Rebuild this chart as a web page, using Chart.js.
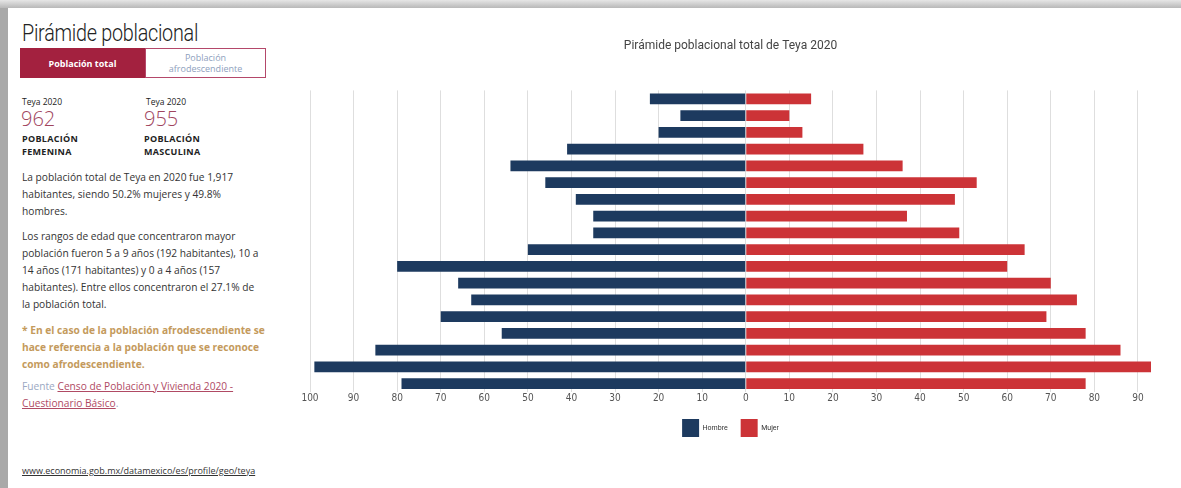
<!DOCTYPE html>
<html>
<head>
<meta charset="utf-8">
<script src="https://cdn.jsdelivr.net/npm/chart.js@4.4.0/dist/chart.umd.min.js"></script>
<style>
  html,body{margin:0;padding:0;}
  body{width:1181px;height:488px;overflow:hidden;background:#a9a9a9;position:relative;font-family:"Open Sans","Noto Sans",sans-serif;}
  #topband{position:absolute;left:0;top:0;width:1181px;height:8px;background:linear-gradient(#e6e6e6,#b8b8b8);}
  #panel{position:absolute;left:8px;top:8px;width:1173px;height:480px;background:#fff;}
  .abs{position:absolute;}
  #ptitle{left:14px;top:12px;font-family:Roboto,sans-serif;font-size:23px;color:#222;font-weight:300;letter-spacing:-0.3px;transform:scaleX(0.86);transform-origin:left top;white-space:nowrap;}
  #tab1{left:12px;top:40px;width:125px;height:30px;background:#a3213f;color:#fff;font-size:9px;font-weight:700;display:flex;align-items:center;justify-content:center;}
  #tab2{left:137px;top:40px;width:119px;height:28px;border:1px solid #b4486a;color:#8ea0bd;font-size:9px;display:flex;align-items:center;justify-content:center;text-align:center;line-height:11px;}
  .small{font-size:8.5px;color:#222;}
  .big{font-size:20px;color:#a0445d;font-weight:300;}
  .lbl{font-size:9px;font-weight:700;color:#222;line-height:13px;letter-spacing:0.3px;}
  .para{left:14px;width:240px;font-size:10.2px;color:#333;line-height:17px;}
  #note{left:14px;top:314px;width:250px;font-size:10.2px;font-weight:700;color:#c49a5c;line-height:17px;}
  #src{left:14px;top:370px;width:250px;font-size:10.2px;line-height:17px;color:#9ba8c2;}
  #src a{color:#b04a64;text-decoration:underline;}
  #url{left:14px;top:456px;font-size:9px;color:#333;text-decoration:underline;}
  #chartwrap{position:absolute;left:296px;top:22px;width:868px;height:431px;}
</style>
</head>
<body>
<div id="topband"></div>
<div id="panel">
  <div class="abs" id="ptitle">Pirámide poblacional</div>
  <div class="abs" id="tab1">Población total</div>
  <div class="abs" id="tab2">Población<br>afrodescendiente</div>

  <div class="abs small" style="left:14px;top:88px;">Teya 2020</div>
  <div class="abs big" style="left:13px;top:97px;">962</div>
  <div class="abs lbl" style="left:14px;top:124px;">POBLACIÓN<br>FEMENINA</div>

  <div class="abs small" style="left:138px;top:88px;">Teya 2020</div>
  <div class="abs big" style="left:136px;top:97px;">955</div>
  <div class="abs lbl" style="left:136px;top:124px;">POBLACIÓN<br>MASCULINA</div>

  <div class="abs para" style="top:161px;">La población total de Teya en 2020 fue 1,917 habitantes, siendo 50.2% mujeres y 49.8% hombres.</div>
  <div class="abs para" style="top:220px;">Los rangos de edad que concentraron mayor población fueron 5 a 9 años (192 habitantes), 10 a 14 años (171 habitantes) y 0 a 4 años (157 habitantes). Entre ellos concentraron el 27.1% de la población total.</div>
  <div class="abs" id="note">* En el caso de la población afrodescendiente se hace referencia a la población que se reconoce como afrodescendiente.</div>
  <div class="abs" id="src">Fuente <a>Censo de Población y Vivienda 2020 - Cuestionario Básico</a>.</div>
  <div class="abs" id="url">www.economia.gob.mx/datamexico/es/profile/geo/teya</div>
</div>
<div id="chartwrap"><canvas id="c"></canvas></div>
<script>
// Age groups, youngest first (drawn bottom to top)
const categories = ["0 a 4 años","5 a 9 años","10 a 14 años","15 a 19 años","20 a 24 años","25 a 29 años","30 a 34 años","35 a 39 años","40 a 44 años","45 a 49 años","50 a 54 años","55 a 59 años","60 a 64 años","65 a 69 años","70 a 74 años","75 a 79 años","80 a 84 años","85 años o más"];
const hombre = [79, 99, 85, 56, 70, 63, 66, 80, 50, 35, 35, 39, 46, 54, 41, 20, 15, 22];
const mujer  = [78, 93, 86, 78, 69, 76, 70, 60, 64, 49, 37, 48, 53, 36, 27, 13, 10, 15];
const xTicksStep = 10;
const xMin = -100;
const xMax = 93;

const tickFont = {family:"'Liberation Sans Narrow','DejaVu Sans Condensed','Roboto',sans-serif", size:10};

new Chart(document.getElementById('c'), {
  type: 'bar',
  data: {
    labels: categories,
    datasets: [
      {label:'Hombre', data: hombre.map(v => -v), backgroundColor:'#1d3a5f', barPercentage:0.64, categoryPercentage:1},
      {label:'Mujer', data: mujer, backgroundColor:'#cc3337', barPercentage:0.64, categoryPercentage:1}
    ]
  },
  options: {
    indexAxis: 'y',
    responsive: true,
    maintainAspectRatio: false,
    animation: false,
    layout: {padding: {left: 14, right: 13, top: 0, bottom: 6}},
    scales: {
      x: {
        stacked: true,
        min: xMin, max: xMax,
        border: {display:false},
        grid: {color:'#dedede', drawTicks:false, lineWidth:1},
        ticks: {stepSize: xTicksStep, includeBounds:false, padding:0, color:'#555', font: tickFont,
                callback: v => Math.abs(v)},
        afterFit: s => { s.height += 2; }
      },
      y: {
        stacked: true,
        reverse: true,
        display: false
      }
    },
    plugins: {
      title: {display:true, text:'Pirámide poblacional total de Teya 2020', color:'#444',
              font:{family:"'Liberation Sans Narrow','Roboto',sans-serif", size:12, weight:'normal'},
              padding:{top:17, bottom:37}},
      legend: {position:'bottom',
               labels:{boxWidth:17, boxHeight:18, color:'#333', padding:13,
                       font:{family:"'Liberation Sans Narrow','Roboto',sans-serif", size:7}}},
      tooltip: {enabled:false}
    }
  }
});
</script>
</body>
</html>
